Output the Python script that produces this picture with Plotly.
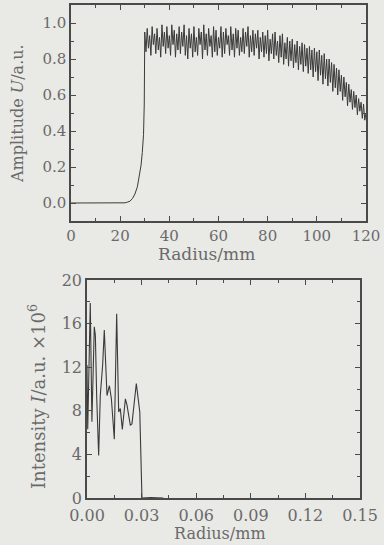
import plotly.graph_objects as go

# ---------------- data: top panel (amplitude vs radius) ----------------
rise_x = [0, 10, 20, 22, 23, 24, 25, 26, 27, 28, 28.5, 29, 29.5, 29.8]
rise_y = [0, 0, 0, 0.001, 0.005, 0.01, 0.025, 0.05, 0.09, 0.16, 0.21, 0.28, 0.38, 0.55]

osc_start = 30.0
osc_step = 0.5
osc_y = [
    0.95, 0.84, 0.97, 0.86, 0.93, 0.82, 0.98, 0.88, 0.94, 0.83,
    0.97, 0.85, 0.92, 0.81, 0.99, 0.87, 0.95, 0.83, 0.98, 0.86,
    0.93, 0.82, 0.99, 0.88, 0.96, 0.81, 0.94, 0.85, 0.98, 0.83,
    0.95, 0.87, 0.99, 0.82, 0.93, 0.80, 0.97, 0.86, 0.94, 0.81,
    0.98, 0.84, 0.92, 0.82, 0.97, 0.88, 0.95, 0.80, 0.99, 0.85,
    0.94, 0.82, 0.97, 0.87, 0.93, 0.81, 0.98, 0.84, 0.96, 0.82,
    0.92, 0.86, 0.98, 0.81, 0.95, 0.83, 0.97, 0.88, 0.93, 0.82,
    0.98, 0.85, 0.94, 0.81, 0.97, 0.86, 0.96, 0.82, 0.92, 0.84,
    0.97, 0.83, 0.95, 0.87, 0.98, 0.81, 0.93, 0.84, 0.96, 0.82,
    0.94, 0.86, 0.96, 0.80, 0.92, 0.84, 0.95, 0.81, 0.93, 0.83,
    0.96, 0.79, 0.91, 0.83, 0.94, 0.80, 0.95, 0.82, 0.90, 0.78,
    0.93, 0.81, 0.94, 0.77, 0.89, 0.80, 0.92, 0.76, 0.90, 0.79,
    0.91, 0.75, 0.88, 0.78, 0.90, 0.74, 0.87, 0.77, 0.89, 0.73,
    0.88, 0.76, 0.86, 0.72, 0.87, 0.74, 0.85, 0.70, 0.86, 0.73,
    0.84, 0.68, 0.85, 0.71, 0.82, 0.66, 0.83, 0.69, 0.80, 0.65,
    0.80, 0.67, 0.78, 0.62, 0.77, 0.64, 0.75, 0.60, 0.74, 0.62,
    0.71, 0.57, 0.70, 0.59, 0.67, 0.54, 0.66, 0.56, 0.63, 0.52,
    0.62, 0.53, 0.60, 0.49, 0.58, 0.51, 0.56, 0.47, 0.55, 0.46,
    0.50,
]
osc_x = [osc_start + i * osc_step for i in range(len(osc_y))]

top_x = rise_x + osc_x
top_y = rise_y + osc_y

# ---------------- data: bottom panel (intensity vs radius) ----------------
bot_x = [0.0000, 0.0004, 0.0018, 0.0027, 0.0040, 0.0046, 0.0053, 0.0064, 0.0073,
         0.0086, 0.0095, 0.0110, 0.0123, 0.0134, 0.0150, 0.0163, 0.0174, 0.0183,
         0.0194, 0.0211, 0.0220, 0.0238, 0.0247, 0.0271, 0.0290, 0.0302, 0.0350, 0.0420]
bot_y = [12.2, 6.3, 17.9, 7.0, 15.7, 14.9, 9.4, 3.9, 9.4,
         12.2, 15.4, 9.4, 10.3, 9.1, 5.4, 16.9, 7.9, 8.2,
         6.3, 9.1, 8.5, 6.7, 6.8, 10.5, 7.9, 0.0, 0.05, 0.0]

top_xticks = [0, 20, 40, 60, 80, 100, 120]
top_yticks = [0.0, 0.2, 0.4, 0.6, 0.8, 1.0]
top_yticklabels = ["0.0", "0.2", "0.4", "0.6", "0.8", "1.0"]
bot_xticks = [0.00, 0.03, 0.06, 0.09, 0.12, 0.15]
bot_xticklabels = ["0.00", "0.03", "0.06", "0.09", "0.12", "0.15"]
bot_yticks = [0, 4, 8, 12, 16, 20]

# ---------------- styling ----------------
W, H = 384, 545
BG = "#e9e9e6"
AX = "#4a4a4a"
TXT = "#6a6a6a"
LINE = "#3a3a3a"
FONT = "DejaVu Serif"


def px(x):
    return x / W


def py(y):
    return 1 - y / H


fig = go.Figure()
fig.add_trace(go.Scatter(x=top_x, y=top_y, mode="lines",
                         line=dict(color=LINE, width=1.0),
                         xaxis="x", yaxis="y", showlegend=False))
fig.add_trace(go.Scatter(x=bot_x, y=bot_y, mode="lines",
                         line=dict(color=LINE, width=1.1),
                         xaxis="x2", yaxis="y2", showlegend=False))

common = dict(showline=True, linecolor=AX, linewidth=1.5, mirror="ticks",
              ticks="inside", tickcolor=AX, ticklen=5, tickwidth=1,
              showgrid=False, zeroline=False, automargin=False)

fig.update_layout(
    width=W, height=H,
    margin=dict(l=0, r=0, t=0, b=0, pad=0, autoexpand=False),
    paper_bgcolor=BG, plot_bgcolor=BG,
    font=dict(family=FONT, color=TXT),
    xaxis=dict(domain=[px(71), px(366)], anchor="y", range=[0, 120],
               tickvals=top_xticks, tickfont=dict(size=15, color=TXT),
               minor=dict(dtick=10, ticks="inside", ticklen=3, tickcolor=AX),
               **common),
    yaxis=dict(domain=[py(221), py(5)], anchor="x", range=[-0.1, 1.1],
               tickvals=top_yticks, ticktext=top_yticklabels,
               tickfont=dict(size=15, color=TXT),
               minor=dict(dtick=0.1, tick0=0, ticks="inside", ticklen=3, tickcolor=AX),
               **common),
    xaxis2=dict(domain=[px(87), px(360)], anchor="y2", range=[0, 0.15],
                tickvals=bot_xticks, ticktext=bot_xticklabels,
                tickfont=dict(size=16, color=TXT), ticklabelstandoff=2,
                minor=dict(dtick=0.015, tick0=0, ticks="inside", ticklen=3, tickcolor=AX),
                **common),
    yaxis2=dict(domain=[py(498), py(280)], anchor="x2", range=[0, 20],
                tickvals=bot_yticks, tickfont=dict(size=16, color=TXT),
                minor=dict(dtick=2, tick0=0, ticks="inside", ticklen=3, tickcolor=AX),
                **common),
    annotations=[
        dict(text="Radius/mm", x=px(206), y=py(254), xref="paper", yref="paper",
             showarrow=False, font=dict(size=17, color=TXT), xanchor="center", yanchor="middle"),
        dict(text="Amplitude <i>U</i>/a.u.", x=px(17), y=py(114), xref="paper", yref="paper",
             showarrow=False, textangle=-90, font=dict(size=16, color=TXT),
             xanchor="center", yanchor="middle"),
        dict(text="Radius/mm", x=px(220), y=py(533), xref="paper", yref="paper",
             showarrow=False, font=dict(size=16, color=TXT), xanchor="center", yanchor="middle"),
        dict(text="Intensity <i>I</i>/a.u. ×10<sup>6</sup>", x=px(37), y=py(397),
             xref="paper", yref="paper", showarrow=False, textangle=-90,
             font=dict(size=18, color=TXT), xanchor="center", yanchor="middle"),
    ],
)

fig.write_html("out.html", config={"displayModeBar": False},
               post_script="document.body.style.margin='0';document.body.style.background='#e9e9e6';")
